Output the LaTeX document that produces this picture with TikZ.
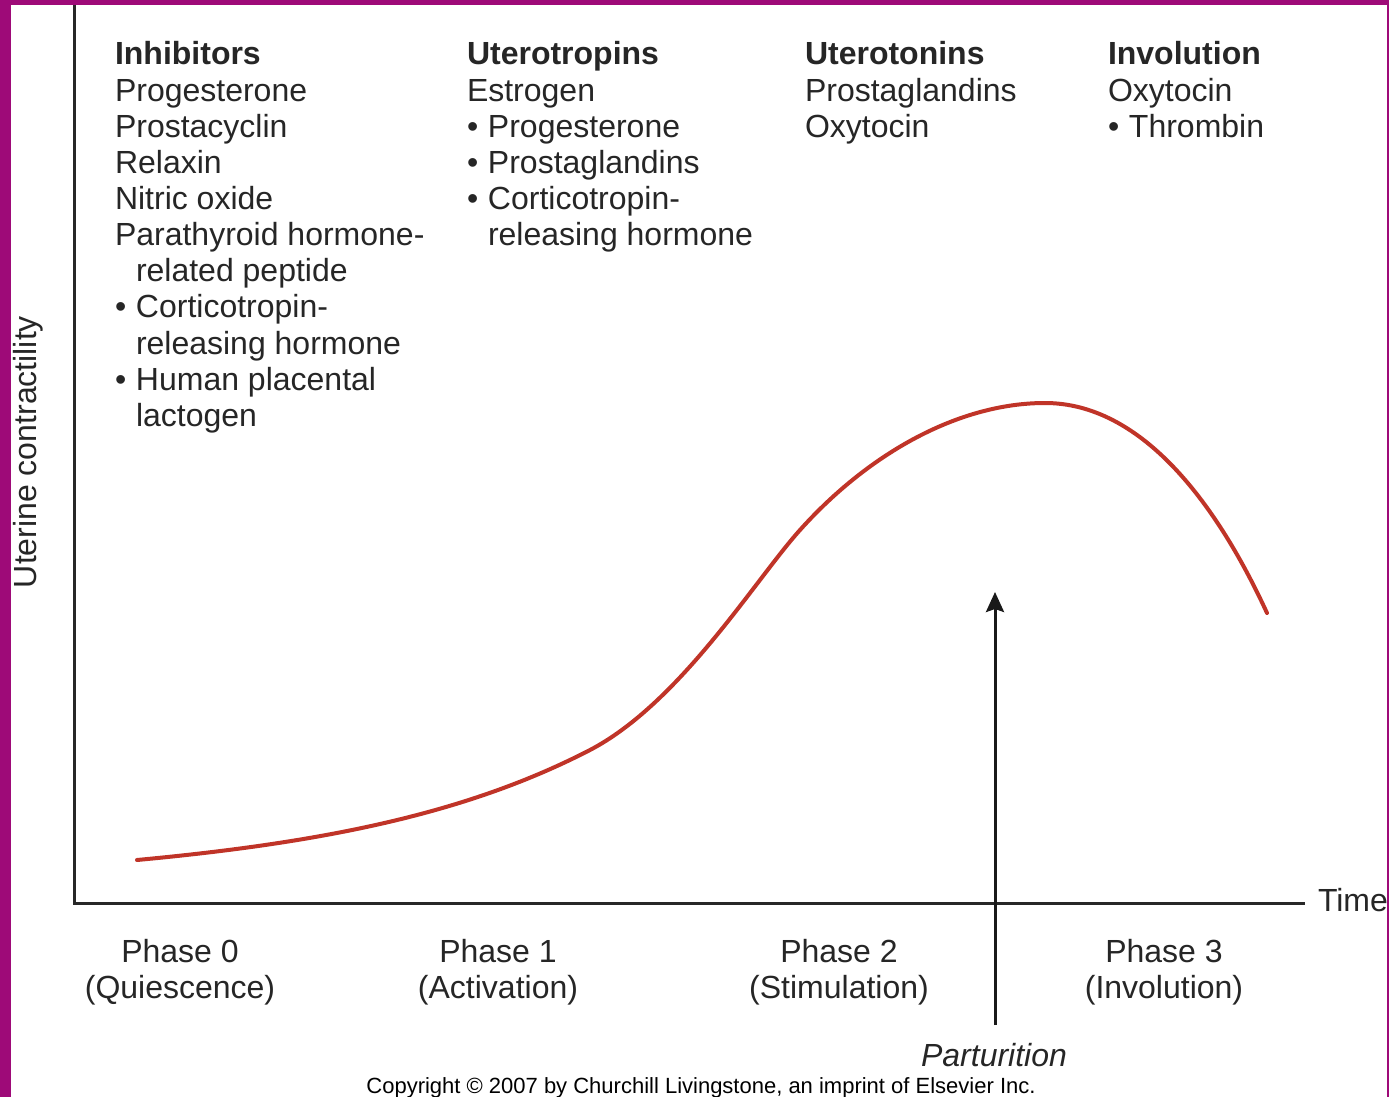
\documentclass[tikz,border=0pt]{standalone}
\usepackage{fontspec}
\setmainfont{Liberation Sans}
\usetikzlibrary{arrows.meta}
\definecolor{frame}{RGB}{158,10,120}
\definecolor{curvered}{RGB}{192,52,40}
\definecolor{ink}{RGB}{38,38,38}
\definecolor{axisgray}{RGB}{40,40,40}
\tikzset{
  lbl/.style={inner sep=0pt, outer sep=0pt, text=ink, font=\fontsize{16pt}{18pt}\selectfont, anchor=base west},
  head/.style={lbl, font=\fontsize{16pt}{18pt}\selectfont\bfseries},
  phase/.style={lbl, anchor=base},
  axis/.style={draw=axisgray, line width=1.5pt},
  growth/.style={draw=curvered, line width=2pt, line cap=round},
  marker/.style={draw=black!90, line width=1.5pt, -{Stealth[length=10pt,width=9pt,inset=1.5pt]}}
}
\newcommand{\bul}{\makebox[10.5pt][l]{•}}
\newcommand{\ind}{\hspace*{10.5pt}}
\begin{document}
\begin{tikzpicture}[x=0.5pt,y=-0.5pt]
\useasboundingbox (0,0) rectangle (1389,1097);
\fill[white] (0,0) rectangle (1389,1097);
% frame
\fill[frame] (0,0) rectangle (11,1097);
\fill[frame] (0,0) rectangle (1389,5);
\fill[frame] (1387,0) rectangle (1389,1097);

% axes
\coordinate (ytop) at (74,5);
\coordinate (origin) at (74,903);
\coordinate (xend) at (1305,903);
\draw[axis] (ytop) -- (origin) -- (xend);

% curve
\draw[growth] (137,860) .. controls (330,842) and (470,812) .. (590,750)
  .. controls (680,703) and (755,580) .. (800,530)
  .. controls (870,452) and (960,403) .. (1045,403)
  .. controls (1140,403) and (1215,500) .. (1267,613);

% parturition arrow
\coordinate (pbase) at (995,1025);
\coordinate (ptip) at (995,592);
\draw[marker] (pbase) -- (ptip);

% axis labels
\node[lbl, rotate=90, anchor=base] (ylab) at (37,452) {Uterine contractility};
\node[lbl] (time) at (1318,911) {Time};

% column 1
\node[head] (inh0) at (115,65) {Inhibitors};
\node[lbl] (inh1) at (115,102) {Progesterone};
\node[lbl] (inh2) at (115,138) {Prostacyclin};
\node[lbl] (inh3) at (115,174) {Relaxin};
\node[lbl] (inh4) at (115,210) {Nitric oxide};
\node[lbl] (inh5) at (115,246) {Parathyroid hormone-};
\node[lbl] (inh6) at (115,282) {\ind related peptide};
\node[lbl] (inh7) at (115,318) {\bul Corticotropin-};
\node[lbl] (inh8) at (115,354) {\ind releasing hormone};
\node[lbl] (inh9) at (115,390) {\bul Human placental};
\node[lbl] (inh10) at (115,426) {\ind lactogen};

% column 2
\node[head] (utr0) at (467,65) {Uterotropins};
\node[lbl] (utr1) at (467,102) {Estrogen};
\node[lbl] (utr2) at (467,138) {\bul Progesterone};
\node[lbl] (utr3) at (467,174) {\bul Prostaglandins};
\node[lbl] (utr4) at (467,210) {\bul Corticotropin-};
\node[lbl] (utr5) at (467,246) {\ind releasing hormone};

% column 3
\node[head] (uto0) at (805,65) {Uterotonins};
\node[lbl] (uto1) at (805,102) {Prostaglandins};
\node[lbl] (uto2) at (805,138) {Oxytocin};

% column 4
\node[head] (inv0) at (1108,65) {Involution};
\node[lbl] (inv1) at (1108,102) {Oxytocin};
\node[lbl] (inv2) at (1108,138) {\bul Thrombin};

% phases
\node[phase] (p0a) at (180,962) {Phase 0};
\node[phase] (p0b) at (180,998) {(Quiescence)};
\node[phase] (p1a) at (498,962) {Phase 1};
\node[phase] (p1b) at (498,998) {(Activation)};
\node[phase] (p2a) at (839,962) {Phase 2};
\node[phase] (p2b) at (839,998) {(Stimulation)};
\node[phase] (p3a) at (1164,962) {Phase 3};
\node[phase] (p3b) at (1164,998) {(Involution)};

\node[phase, font=\fontsize{16pt}{18pt}\selectfont\itshape] (part) at (994,1066) {Parturition};
\node[phase, font=\fontsize{11pt}{13pt}\selectfont, text=black] (copy) at (701,1093) {Copyright © 2007 by Churchill Livingstone, an imprint of Elsevier Inc.};
\end{tikzpicture}
\end{document}
